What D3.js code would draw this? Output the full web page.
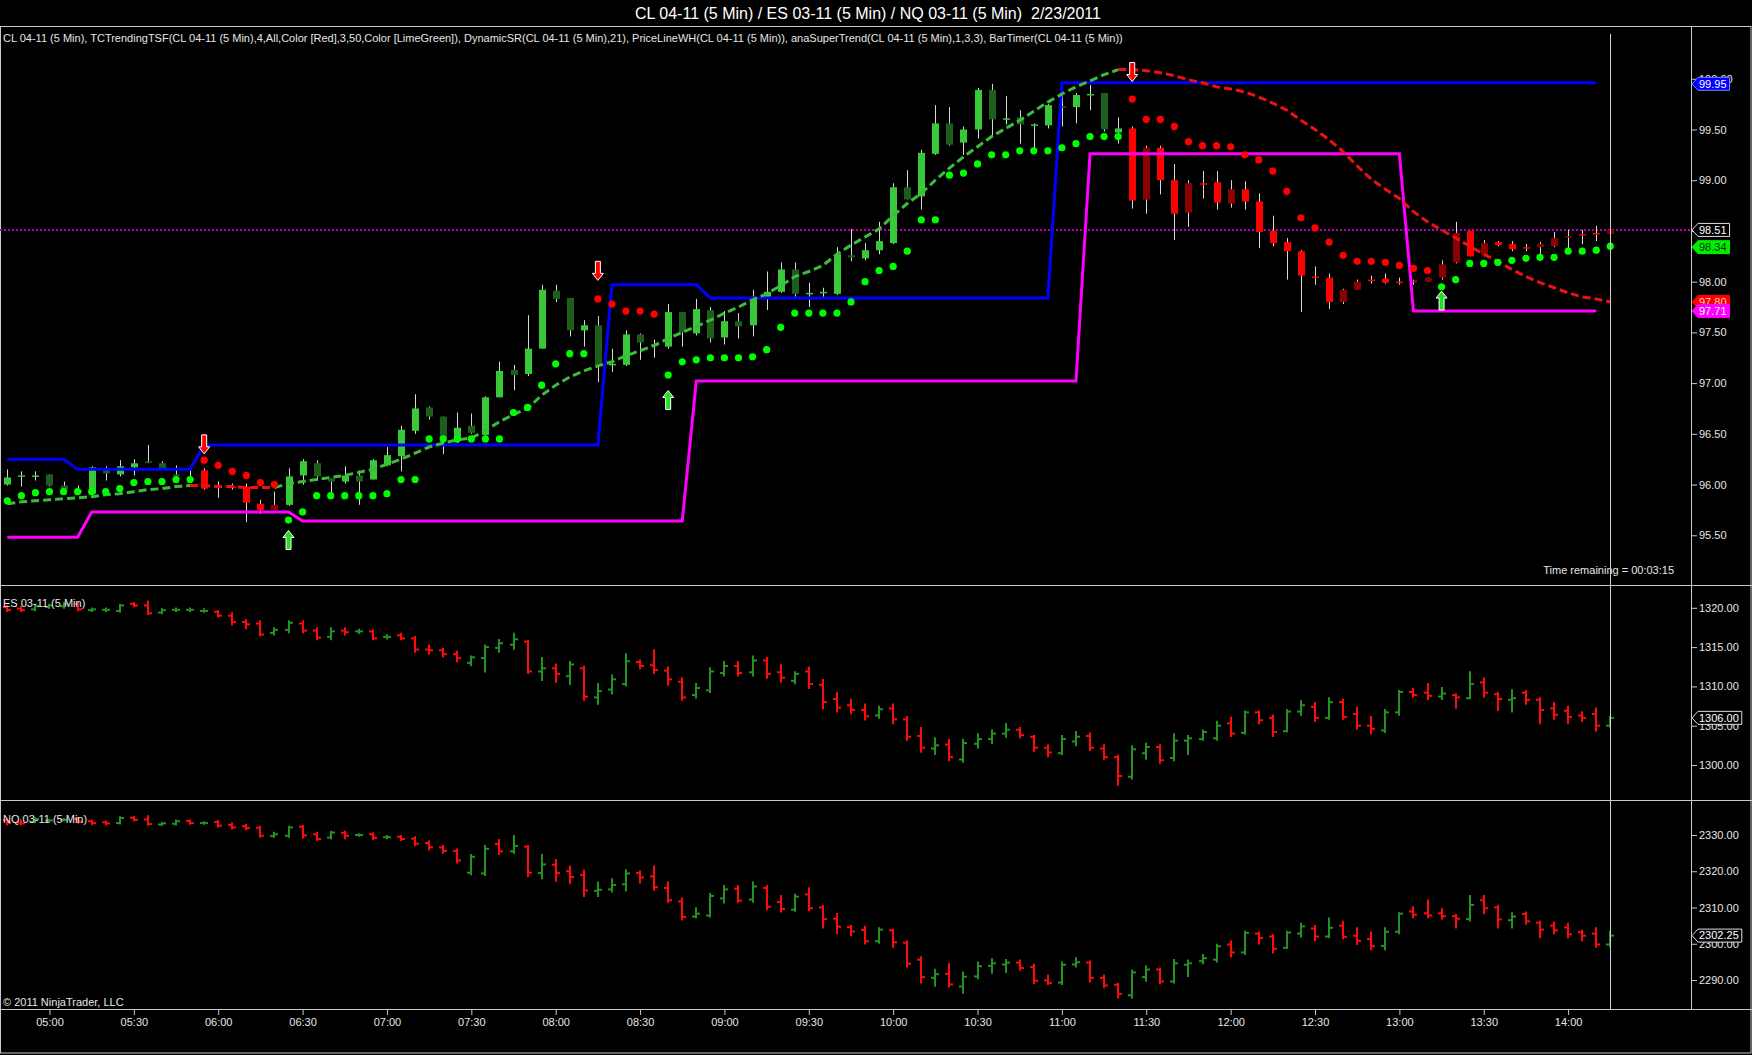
<!DOCTYPE html>
<html>
<head>
<meta charset="utf-8">
<script src="https://cdn.jsdelivr.net/npm/d3@7"></script>
<style>
  html, body { margin: 0; background: #000; }
  svg { display: block; font-family: "Liberation Sans", Arial, sans-serif; }
</style>
</head>
<body>
<svg id="chart" width="1752" height="1055"></svg>
<script>
// --- data (5 min bars, 04:45 .. 14:15) ---

// CL 04-11 candles: [open, high, low, close]
const clOHLC = [
  [96.00,96.15,95.99,96.07],[96.09,96.13,95.98,96.09],[96.09,96.13,96.04,96.09],[96.10,96.10,95.98,95.99],
  [95.99,96.03,95.93,95.95],[95.94,95.99,95.90,95.94],[95.91,96.18,95.90,96.17],[96.16,96.18,96.04,96.11],
  [96.10,96.24,96.08,96.18],[96.17,96.25,96.09,96.21],[96.23,96.39,96.21,96.22],[96.21,96.23,96.15,96.16],
  [96.10,96.19,96.04,96.09],[96.06,96.14,96.04,96.05],[96.14,96.16,95.95,95.96],[95.99,96.03,95.87,95.97],
  [95.98,96.01,95.95,95.98],[95.98,96.01,95.63,95.82],[95.81,95.85,95.71,95.75],[95.75,95.93,95.75,95.80],
  [95.80,96.16,95.79,96.08],[96.09,96.25,96.00,96.23],[96.21,96.24,96.04,96.08],[96.06,96.06,95.90,96.03],
  [96.03,96.18,96.01,96.09],[96.09,96.14,95.80,96.03],[96.05,96.25,96.05,96.24],[96.19,96.37,96.18,96.29],
  [96.28,96.58,96.13,96.54],[96.53,96.89,96.50,96.75],[96.76,96.77,96.64,96.67],[96.67,96.67,96.30,96.45],
  [96.46,96.71,96.41,96.56],[96.58,96.70,96.50,96.51],[96.49,96.87,96.48,96.86],[96.86,97.21,96.86,97.12],
  [97.13,97.18,96.93,97.08],[97.09,97.67,97.07,97.34],[97.34,97.97,97.34,97.92],[97.91,97.97,97.80,97.83],
  [97.84,97.84,97.46,97.52],[97.52,97.62,97.36,97.57],[97.57,97.66,97.01,97.18],[97.19,97.34,97.11,97.19],
  [97.18,97.52,97.17,97.48],[97.48,97.49,97.23,97.40],[97.38,97.43,97.25,97.38],[97.36,97.78,97.34,97.70],
  [97.70,97.70,97.36,97.50],[97.49,97.83,97.47,97.73],[97.72,97.75,97.40,97.44],[97.45,97.71,97.38,97.61],
  [97.61,97.69,97.44,97.56],[97.57,97.92,97.46,97.85],[97.85,98.10,97.72,97.90],[97.90,98.19,97.89,98.12],
  [98.12,98.19,97.85,97.88],[97.89,97.99,97.75,97.89],[97.90,97.94,97.84,97.90],[97.88,98.34,97.87,98.27],
  [98.26,98.52,98.20,98.24],[98.23,98.38,98.21,98.31],[98.31,98.59,98.27,98.40],[98.38,98.97,98.37,98.93],
  [98.93,99.10,98.81,98.81],[98.84,99.30,98.71,99.27],[99.26,99.74,99.25,99.56],[99.56,99.72,99.34,99.35],
  [99.37,99.53,99.25,99.50],[99.50,99.91,99.41,99.89],[99.89,99.95,99.44,99.60],[99.61,99.83,99.55,99.61],
  [99.62,99.69,99.36,99.55],[99.55,99.56,99.27,99.55],[99.54,99.75,99.51,99.74],[99.73,99.84,99.53,99.72],
  [99.72,99.86,99.56,99.84],[99.85,99.94,99.69,99.85],[99.86,99.86,99.48,99.50],[99.47,99.62,99.36,99.51],
  [99.51,99.53,98.72,98.80],[98.81,99.34,98.67,99.32],[99.32,99.34,98.86,99.00],[99.00,99.16,98.41,98.67],
  [98.68,99.00,98.54,98.97],[98.97,99.09,98.82,98.96],[98.98,99.09,98.71,98.78],[98.77,99.00,98.73,98.91],
  [98.91,98.99,98.71,98.79],[98.79,98.87,98.33,98.49],[98.50,98.65,98.35,98.38],[98.39,98.43,98.02,98.30],
  [98.30,98.31,97.70,98.06],[98.05,98.15,97.97,98.04],[98.04,98.08,97.73,97.80],[97.80,97.93,97.78,97.92],
  [97.92,98.02,97.92,98.00],[98.02,98.06,97.98,98.01],[98.03,98.08,97.98,97.99],[98.00,98.04,97.97,97.99],
  [98.01,98.02,97.97,98.00],[98.00,98.04,98.00,98.04],[98.04,98.21,98.02,98.17],[98.19,98.59,98.18,98.48],
  [98.50,98.50,98.25,98.25],[98.26,98.41,98.25,98.38],[98.39,98.40,98.35,98.36],[98.37,98.40,98.30,98.32],
  [98.34,98.37,98.30,98.34],[98.34,98.39,98.26,98.37],[98.35,98.49,98.34,98.43],[98.44,98.51,98.33,98.45],
  [98.47,98.51,98.37,98.47],[98.48,98.55,98.40,98.48],[98.47,98.52,98.46,98.51]
];

// TCTrendingTSF line value per bar, and the bar ranges where it is red
const tsfValues = [
  95.81,95.83,95.84,95.85,95.86,95.87,95.88,95.90,95.91,95.93,95.95,95.96,95.98,95.99,95.99,95.98,
  95.98,95.97,95.97,95.97,96.01,96.03,96.05,96.07,96.09,96.12,96.15,96.20,96.25,96.31,96.37,96.41,
  96.44,96.46,96.53,96.62,96.69,96.75,96.88,96.98,97.06,97.12,97.17,97.21,97.27,97.32,97.37,97.44,
  97.50,97.56,97.62,97.69,97.75,97.82,97.88,97.96,98.05,98.10,98.16,98.27,98.36,98.44,98.52,98.65,
  98.77,98.87,99.00,99.12,99.23,99.33,99.43,99.51,99.59,99.68,99.77,99.85,99.92,99.98,100.04,100.09,
  100.09,100.08,100.06,100.03,99.99,99.96,99.92,99.90,99.87,99.82,99.76,99.69,99.59,99.50,99.40,99.28,
  99.14,99.01,98.91,98.82,98.69,98.59,98.51,98.43,98.35,98.27,98.20,98.12,98.05,97.99,97.94,97.89,
  97.85,97.83,97.80
];
const tsfDownRanges = [[13, 19], [79, 114]];

// anaSuperTrend dots and the bar ranges where they are red
const superTrend = [
  95.84,95.89,95.92,95.93,95.93,95.93,95.93,95.93,95.96,96.02,96.03,96.03,96.05,96.05,96.24,96.19,
  96.13,96.09,96.02,96.00,95.65,95.73,95.89,95.89,95.89,95.89,95.89,95.91,96.05,96.05,96.45,96.45,
  96.45,96.45,96.45,96.45,96.71,96.76,96.98,97.19,97.29,97.29,97.83,97.78,97.71,97.71,97.68,97.08,
  97.21,97.23,97.25,97.25,97.25,97.26,97.33,97.55,97.69,97.69,97.69,97.69,97.80,98.00,98.11,98.15,
  98.30,98.61,98.61,99.05,99.07,99.16,99.25,99.25,99.29,99.29,99.29,99.32,99.36,99.43,99.43,99.43,
  99.80,99.60,99.60,99.53,99.38,99.34,99.34,99.33,99.25,99.20,99.09,98.89,98.63,98.53,98.39,98.26,
  98.20,98.20,98.19,98.16,98.13,98.11,97.95,98.02,98.18,98.18,98.19,98.21,98.23,98.24,98.24,98.30,
  98.30,98.31,98.35
];
const superTrendDownRanges = [[14, 19], [42, 46], [80, 101]];

// DynamicSR levels: [first bar, last bar, price]
const resistanceSteps = [[0, 4, 96.25], [5, 13, 96.15], [14, 42, 96.39], [43, 49, 97.97], [50, 74, 97.84], [75, 113, 99.96]];
const supportSteps = [[0, 5, 95.48], [6, 20, 95.73], [21, 48, 95.64], [49, 76, 97.02], [77, 99, 99.26], [100, 113, 97.71]];

// trend change arrows: bar index and price of the arrow's tail
const arrowsDown = [[14, 96.49], [42, 98.20], [80, 100.16]];
const arrowsUp = [[20, 95.36], [47, 96.74], [102, 97.72]];

const lastPrice = 98.51;

// ES 03-11 bars: [open, high, low, close]
const esOHLC = [
  [1320.1,1320.2,1319.6,1319.7],[1319.9,1320.1,1319.6,1319.7],[1319.8,1320.4,1319.7,1320.2],[1320.1,1320.4,1320.0,1320.3],
  [1320.2,1320.6,1320.0,1320.5],[1320.5,1320.6,1319.7,1319.8],[1319.7,1319.9,1319.6,1319.8],[1319.75,1319.9,1319.6,1319.75],
  [1319.6,1320.4,1319.5,1320.3],[1320.5,1320.6,1320.2,1320.3],[1320.3,1320.8,1319.2,1319.3],[1319.4,1319.8,1319.3,1319.7],
  [1319.75,1319.9,1319.6,1319.75],[1319.75,1319.9,1319.6,1319.75],[1319.6,1319.8,1319.5,1319.6],[1319.5,1319.6,1318.9,1319.0],
  [1319.0,1319.3,1317.9,1318.2],[1318.2,1318.4,1317.4,1317.9],[1318.0,1318.3,1316.5,1316.6],[1316.8,1317.4,1316.6,1317.2],
  [1317.2,1318.3,1316.9,1318.1],[1318.0,1318.3,1316.9,1317.1],[1317.1,1317.4,1316.0,1316.2],[1316.3,1317.4,1316.0,1317.0],
  [1317.1,1317.4,1316.6,1316.9],[1317.0,1317.2,1316.8,1317.0],[1317.0,1317.1,1316.0,1316.1],[1316.3,1316.5,1316.1,1316.3],
  [1316.5,1316.7,1316.0,1316.1],[1316.1,1316.3,1314.4,1314.7],[1314.7,1315.2,1314.2,1314.6],[1314.6,1314.8,1313.8,1314.1],
  [1314.1,1314.4,1313.2,1313.6],[1313.0,1313.8,1312.7,1313.7],[1313.6,1315.2,1311.9,1315.0],[1314.9,1315.9,1314.4,1315.5],
  [1315.3,1316.7,1314.8,1316.0],[1315.7,1315.8,1311.7,1311.9],[1311.9,1313.6,1310.8,1312.3],[1312.3,1312.8,1310.6,1311.6],
  [1311.3,1313.1,1310.3,1312.8],[1312.3,1312.5,1308.3,1308.7],[1308.6,1310.3,1307.8,1309.4],[1309.6,1311.4,1309.1,1310.9],
  [1310.3,1314.1,1310.1,1313.2],[1313.1,1313.3,1312.3,1312.6],[1312.7,1314.6,1311.7,1312.1],[1312.0,1312.4,1310.2,1310.9],
  [1310.6,1311.0,1308.3,1308.6],[1308.9,1310.3,1308.6,1309.8],[1309.5,1312.3,1309.3,1311.9],[1311.7,1313.1,1311.4,1312.6],
  [1312.6,1313.1,1311.4,1311.7],[1311.8,1313.8,1311.4,1313.3],[1313.3,1313.6,1311.1,1311.6],[1311.8,1312.7,1310.6,1311.1],
  [1310.7,1311.8,1310.4,1311.6],[1311.9,1312.4,1309.8,1310.3],[1310.2,1310.8,1307.2,1308.0],[1308.4,1309.2,1306.8,1307.3],
  [1307.6,1308.3,1306.6,1307.0],[1307.0,1307.7,1305.8,1306.2],[1306.3,1307.4,1306.0,1307.1],[1307.2,1307.7,1305.3,1305.8],
  [1305.8,1306.1,1303.2,1303.6],[1303.7,1304.7,1301.7,1302.2],[1302.1,1303.4,1301.4,1302.5],[1302.6,1303.2,1300.6,1301.0],
  [1300.7,1303.2,1300.4,1302.8],[1302.7,1303.9,1302.2,1303.3],[1303.3,1304.4,1302.8,1304.0],[1304.0,1305.2,1303.6,1304.5],
  [1304.5,1304.7,1303.5,1303.8],[1303.6,1303.7,1301.8,1302.2],[1302.2,1302.5,1301.1,1301.6],[1301.5,1303.7,1301.4,1303.3],
  [1303.0,1304.2,1302.5,1303.6],[1303.7,1304.0,1301.9,1302.2],[1302.1,1302.5,1300.8,1301.0],[1301.0,1301.2,1297.5,1298.6],
  [1298.5,1302.4,1298.3,1302.0],[1301.5,1302.7,1300.8,1302.3],[1302.3,1302.5,1300.3,1300.6],[1300.9,1303.9,1300.6,1303.1],
  [1303.1,1303.7,1301.4,1303.4],[1303.3,1304.4,1303.2,1304.2],[1303.4,1305.5,1303.2,1305.0],[1305.3,1306.0,1303.7,1304.0],
  [1304.1,1306.8,1304.0,1306.7],[1306.7,1306.8,1305.3,1305.7],[1306.0,1306.3,1303.7,1304.2],[1304.3,1307.0,1304.3,1306.8],
  [1306.8,1308.1,1306.4,1307.6],[1307.4,1307.9,1305.6,1306.0],[1306.0,1308.5,1305.9,1308.0],[1308.0,1308.3,1305.9,1306.1],
  [1306.5,1307.3,1304.6,1305.0],[1305.0,1306.1,1304.0,1304.6],[1304.4,1307.0,1304.2,1306.7],[1306.7,1309.4,1306.4,1309.3],
  [1309.3,1309.7,1308.7,1308.9],[1309.2,1310.3,1308.4,1308.8],[1308.7,1309.8,1308.4,1309.1],[1308.9,1309.0,1307.3,1308.6],
  [1308.5,1311.8,1308.5,1310.3],[1310.5,1311.0,1308.7,1309.2],[1309.0,1309.2,1307.0,1308.4],[1308.3,1309.5,1306.8,1308.5],
  [1309.2,1309.4,1307.8,1308.3],[1308.3,1308.5,1305.3,1307.0],[1307.2,1307.9,1305.9,1306.4],[1306.9,1307.4,1305.3,1306.1],
  [1306.3,1306.7,1305.6,1306.0],[1306.5,1307.2,1304.4,1305.0],[1305.0,1306.1,1304.9,1306.0]
];

// NQ 03-11 bars: [open, high, low, close]
const nqOHLC = [
  [2334.1,2334.3,2333.0,2333.3],[2333.4,2334.1,2333.0,2333.2],[2333.6,2334.6,2333.5,2334.4],[2334.0,2334.2,2333.8,2334.0],
  [2334.2,2334.4,2334.0,2334.2],[2334.4,2334.6,2333.4,2333.6],[2333.8,2334.0,2333.0,2333.3],[2333.5,2333.7,2333.0,2333.2],
  [2333.3,2334.9,2333.2,2334.7],[2334.8,2334.9,2334.0,2334.2],[2334.3,2335.2,2332.8,2333.0],[2332.9,2333.3,2332.8,2333.2],
  [2333.1,2334.0,2332.9,2333.8],[2333.9,2334.0,2333.1,2333.3],[2333.3,2333.5,2333.1,2333.3],[2333.6,2333.9,2332.3,2332.6],
  [2332.8,2333.2,2331.8,2332.1],[2332.4,2332.8,2331.6,2331.9],[2332.0,2332.3,2329.5,2329.8],[2329.7,2330.6,2329.5,2330.2],
  [2329.8,2332.3,2329.5,2332.1],[2332.3,2332.5,2329.3,2329.9],[2330.2,2330.6,2328.6,2328.9],[2329.3,2330.9,2329.1,2330.7],
  [2330.6,2330.9,2329.1,2329.8],[2330.0,2330.2,2329.8,2330.0],[2330.2,2330.5,2328.9,2329.2],[2329.4,2329.7,2329.1,2329.4],
  [2329.5,2329.7,2328.6,2328.9],[2329.0,2329.4,2327.2,2327.6],[2327.8,2328.2,2326.0,2326.6],[2326.6,2327.0,2325.1,2325.6],
  [2325.6,2326.0,2322.4,2323.0],[2319.6,2324.5,2319.2,2324.0],[2319.4,2327.0,2319.0,2326.2],[2327.5,2328.6,2324.8,2325.5],
  [2325.5,2329.7,2325.1,2327.0],[2326.8,2327.0,2318.7,2319.6],[2319.5,2324.5,2318.1,2321.9],[2321.8,2323.1,2317.4,2319.5],
  [2320.0,2321.3,2316.7,2318.4],[2319.0,2320.2,2313.2,2314.7],[2314.6,2316.9,2313.2,2314.9],[2315.0,2317.8,2314.4,2316.2],
  [2316.4,2320.3,2314.7,2319.4],[2319.5,2319.9,2316.9,2318.3],[2318.6,2321.3,2314.9,2315.6],[2315.4,2316.9,2311.6,2312.0],
  [2311.7,2312.5,2306.7,2307.4],[2307.5,2309.8,2307.3,2308.3],[2307.8,2313.7,2307.5,2313.2],[2312.5,2315.9,2311.4,2315.0],
  [2315.2,2315.9,2311.6,2311.9],[2312.2,2316.9,2311.6,2315.8],[2315.4,2315.9,2309.5,2310.2],[2311.5,2313.2,2308.9,2309.6],
  [2309.4,2313.5,2309.1,2313.0],[2313.6,2315.3,2309.3,2309.8],[2310.0,2310.4,2304.5,2306.8],[2306.9,2308.2,2302.9,2304.7],
  [2304.6,2304.9,2302.4,2303.4],[2303.8,2304.7,2300.1,2300.7],[2300.7,2304.3,2300.3,2303.9],[2303.7,2303.8,2299.2,2300.4],
  [2300.3,2300.6,2293.7,2294.5],[2295.6,2296.3,2289.3,2290.8],[2290.6,2292.8,2288.4,2291.6],[2291.7,2294.4,2288.2,2288.8],
  [2288.2,2292.1,2286.5,2290.9],[2291.0,2294.8,2290.5,2293.8],[2293.9,2295.7,2292.0,2294.6],[2294.3,2295.5,2292.3,2294.8],
  [2294.8,2295.4,2292.8,2293.3],[2293.6,2294.2,2289.1,2289.8],[2289.9,2291.2,2288.9,2289.2],[2289.3,2294.8,2288.9,2294.2],
  [2294.3,2296.0,2293.7,2294.9],[2294.8,2295.1,2289.6,2290.6],[2290.6,2291.2,2288.0,2288.5],[2288.7,2288.9,2285.2,2286.2],
  [2285.8,2292.6,2285.2,2292.1],[2290.8,2293.7,2289.8,2292.9],[2292.9,2293.2,2289.1,2289.6],[2289.6,2295.5,2289.3,2294.6],
  [2294.2,2295.4,2291.1,2294.6],[2295.2,2296.9,2294.6,2296.0],[2295.6,2299.7,2295.1,2299.3],[2299.8,2300.6,2296.5,2297.6],
  [2297.6,2303.3,2297.2,2303.0],[2302.8,2303.1,2300.1,2301.6],[2302.0,2302.4,2297.6,2298.6],[2298.9,2303.3,2298.8,2303.1],
  [2302.8,2305.5,2302.0,2304.8],[2304.2,2304.9,2301.0,2302.0],[2302.0,2307.0,2301.8,2304.4],[2305.0,2306.1,2301.5,2301.9],
  [2302.2,2304.3,2299.9,2300.8],[2301.3,2303.1,2298.5,2299.3],[2299.4,2304.3,2298.5,2303.3],[2303.3,2308.4,2302.9,2308.3],
  [2308.9,2310.1,2307.3,2308.0],[2308.4,2311.9,2307.3,2307.8],[2308.4,2309.5,2307.0,2307.6],[2307.6,2307.9,2304.5,2306.9],
  [2306.8,2313.2,2306.4,2310.7],[2312.0,2313.2,2308.4,2309.8],[2310.0,2310.4,2304.5,2306.7],[2306.5,2308.4,2304.5,2307.5],
  [2308.2,2308.6,2305.5,2306.2],[2305.8,2306.1,2301.8,2303.9],[2305.0,2305.8,2302.9,2303.7],[2304.5,2305.5,2301.8,2302.6],
  [2303.2,2303.6,2301.0,2302.2],[2302.8,2304.3,2299.2,2299.8],[2299.8,2303.3,2299.4,2302.25]
];

const clTicks = [95.5, 96, 96.5, 97, 97.5, 98, 98.5, 99, 99.5, 100];
const esTicks = [1300, 1305, 1310, 1315, 1320];
const nqTicks = [2290, 2300, 2310, 2320, 2330];

const titleText = "CL 04-11 (5 Min) / ES 03-11 (5 Min) / NQ 03-11 (5 Min)\u00a0\u00a02/23/2011";
const clLabel = "CL 04-11 (5 Min), TCTrendingTSF(CL 04-11 (5 Min),4,All,Color [Red],3,50,Color [LimeGreen]), DynamicSR(CL 04-11 (5 Min),21), PriceLineWH(CL 04-11 (5 Min)), anaSuperTrend(CL 04-11 (5 Min),1,3,3), BarTimer(CL 04-11 (5 Min))";
const esLabel = "ES 03-11 (5 Min)";
const nqLabel = "NQ 03-11 (5 Min)";
const timerText = "Time remaining = 00:03:15";
const copyright = "\u00a9 2011 NinjaTrader, LLC";

// --- layout ---

const width = 1752;
const height = 1055;
const axisX = 1691;
const frameColor = "#c8c8c8";
const textColor = "#e6e6e6";

const panels = {
  cl: { top: 26, bottom: 585 },
  es: { top: 585, bottom: 800 },
  nq: { top: 800, bottom: 1009 },
};

const startTime = new Date(2011, 1, 23, 4, 45);
const times = clOHLC.map((d, i) => d3.timeMinute.offset(startTime, 5 * i));

const x = d3.scaleTime().domain([times[0], times[times.length - 1]]).range([7.3, 1610.3]);
const yCL = d3.scaleLinear().domain([95.01, 100.52]).range([panels.cl.bottom, panels.cl.top]);
const yES = d3.scaleLinear().domain([1295.55, 1322.9]).range([panels.es.bottom, panels.es.top]);
const yNQ = d3.scaleLinear().domain([2282, 2339.66]).range([panels.nq.bottom, panels.nq.top]);

const svg = d3.select("#chart");
svg.append("rect").attr("width", width).attr("height", height).attr("fill", "#000");

const defs = svg.append("defs");
for (const [key, p] of Object.entries(panels)) {
  defs.append("clipPath").attr("id", `clip-${key}`)
    .append("rect").attr("x", 0).attr("y", p.top).attr("width", axisX).attr("height", p.bottom - p.top);
}

const inRanges = (i, ranges) => ranges.some(([a, b]) => i >= a && i <= b);

// --- title and frame ---

svg.append("text")
  .attr("x", 868).attr("y", 19)
  .attr("text-anchor", "middle")
  .attr("fill", "#fff")
  .attr("font-size", 16)
  .text(titleText);

const frame = svg.append("g").attr("stroke", frameColor).attr("stroke-width", 1).attr("fill", "none");
frame.append("rect").attr("x", 0.5).attr("y", 26.5).attr("width", width - 1.5).attr("height", 1053 - 26.5);
[panels.cl.bottom, panels.es.bottom, panels.nq.bottom].forEach((yy) => {
  frame.append("line").attr("x1", 0).attr("x2", width).attr("y1", yy + 0.5).attr("y2", yy + 0.5);
});
frame.append("line").attr("x1", axisX + 0.5).attr("x2", axisX + 0.5).attr("y1", 26).attr("y2", 1009);

// --- CL panel ---

const cl = svg.append("g").attr("clip-path", "url(#clip-cl)");

// price line (dotted)
cl.append("line")
  .attr("x1", 0).attr("x2", axisX)
  .attr("y1", yCL(lastPrice)).attr("y2", yCL(lastPrice))
  .attr("stroke", "#b400b4").attr("stroke-width", 2).attr("stroke-dasharray", "2,2");

// candles: bright/dark green in the up trend, red/dark red in the down trend
const candleColor = (d, i) => {
  const down = inRanges(i, tsfDownRanges.map(([a, b]) => [a + 1, b]));
  if (down) return d[3] > d[0] ? "#8b0000" : "#ff0000";
  return d[3] < d[0] ? "#1d5e1d" : "#38c838";
};

const candles = cl.append("g").selectAll("g").data(clOHLC).join("g");
candles.append("line")
  .attr("x1", (d, i) => Math.round(x(times[i])) + 0.5)
  .attr("x2", (d, i) => Math.round(x(times[i])) + 0.5)
  .attr("y1", (d) => yCL(d[1]))
  .attr("y2", (d) => yCL(d[2]))
  .attr("stroke", "#d8d8d8").attr("stroke-width", 1);
candles.append("rect")
  .attr("x", (d, i) => Math.round(x(times[i])) - 3)
  .attr("y", (d) => yCL(Math.max(d[0], d[3])))
  .attr("width", 7)
  .attr("height", (d) => Math.max(1.5, Math.abs(yCL(d[0]) - yCL(d[3]))))
  .attr("fill", candleColor);

// DynamicSR lines
const stepLine = (steps) => {
  const pts = [];
  steps.forEach(([a, b, v]) => { for (let i = a; i <= b; i++) pts.push([i, v]); });
  return pts;
};
const srLine = d3.line().x((d) => x(times[d[0]])).y((d) => yCL(d[1]));
cl.append("path").attr("d", srLine(stepLine(resistanceSteps)))
  .attr("fill", "none").attr("stroke", "#0000ff").attr("stroke-width", 3);
cl.append("path").attr("d", srLine(stepLine(supportSteps)))
  .attr("fill", "none").attr("stroke", "#ff00ff").attr("stroke-width", 3);

// TSF dashed line, green and red pieces
const tsfLine = d3.line().x((d) => x(times[d.i])).y((d) => yCL(d.v));
const tsfPts = tsfValues.map((v, i) => ({ i, v }));
const pieces = [];
let cursor = 0;
tsfDownRanges.forEach(([a, b]) => {
  if (a > cursor) pieces.push({ from: cursor, to: a, color: "#3cbc3c" });
  pieces.push({ from: a, to: b, color: "#ee1111" });
  cursor = b;
});
if (cursor < tsfPts.length - 1) pieces.push({ from: cursor, to: tsfPts.length - 1, color: "#3cbc3c" });
pieces.forEach((s) => {
  cl.append("path")
    .attr("d", tsfLine(tsfPts.slice(s.from, s.to + 1)))
    .attr("fill", "none").attr("stroke", s.color)
    .attr("stroke-width", 3).attr("stroke-dasharray", "8,4");
});

// supertrend dots
cl.append("g").selectAll("circle").data(superTrend).join("circle")
  .attr("cx", (d, i) => x(times[i]))
  .attr("cy", (d) => yCL(d))
  .attr("r", 3.6)
  .attr("fill", (d, i) => (inRanges(i, superTrendDownRanges) ? "#ff0000" : "#00ff00"));

// arrows
cl.append("g").selectAll("path").data(arrowsDown).join("path")
  .attr("d", (d) => {
    const cx = x(times[d[0]]), y0 = yCL(d[1]);
    return `M${cx - 2.5},${y0} h5 v12 h3 l-5.5,7 l-5.5,-7 h3 z`;
  })
  .attr("fill", "#ff0000").attr("stroke", "#fff").attr("stroke-width", 1);
cl.append("g").selectAll("path").data(arrowsUp).join("path")
  .attr("d", (d) => {
    const cx = x(times[d[0]]), y0 = yCL(d[1]);
    return `M${cx - 2.5},${y0} h5 v-12 h3 l-5.5,-7 l-5.5,7 h3 z`;
  })
  .attr("fill", "#22dd22").attr("stroke", "#fff").attr("stroke-width", 1);

// --- ES / NQ OHLC bars ---

function drawOhlc(data, y, key) {
  const g = svg.append("g").attr("clip-path", `url(#clip-${key})`);
  const bars = g.selectAll("g").data(data).join("g")
    .attr("stroke", (d) => (d[3] >= d[0] ? "#249124" : "#ff0a0a"))
    .attr("stroke-width", 2);
  bars.append("line")
    .attr("x1", (d, i) => Math.round(x(times[i])))
    .attr("x2", (d, i) => Math.round(x(times[i])))
    .attr("y1", (d) => y(d[1]) - 1)
    .attr("y2", (d) => y(d[2]) + 1);
  bars.append("line")
    .attr("x1", (d, i) => Math.round(x(times[i])) - 4)
    .attr("x2", (d, i) => Math.round(x(times[i])))
    .attr("y1", (d) => y(d[0]))
    .attr("y2", (d) => y(d[0]));
  bars.append("line")
    .attr("x1", (d, i) => Math.round(x(times[i])))
    .attr("x2", (d, i) => Math.round(x(times[i])) + 4)
    .attr("y1", (d) => y(d[3]))
    .attr("y2", (d) => y(d[3]));
}
drawOhlc(esOHLC, yES, "es");
drawOhlc(nqOHLC, yNQ, "nq");

// --- panel labels ---

const labels = svg.append("g").attr("fill", textColor).attr("font-size", 11);
labels.append("text").attr("x", 3).attr("y", 42).text(clLabel);
labels.append("text").attr("x", 3).attr("y", 607).text(esLabel);
labels.append("text").attr("x", 3).attr("y", 823).text(nqLabel);
labels.append("text").attr("x", 3).attr("y", 1006).text(copyright);

// current bar marker line
svg.append("line")
  .attr("x1", Math.round(x(times[times.length - 1])) + 0.5)
  .attr("x2", Math.round(x(times[times.length - 1])) + 0.5)
  .attr("y1", 34).attr("y2", 1009)
  .attr("stroke", "#d0d0d0").attr("stroke-width", 1);

labels.append("text").attr("x", 1674).attr("y", 574).attr("text-anchor", "end").text(timerText);

// --- axes ---

function rightAxis(y, ticks) {
  const g = svg.append("g")
    .attr("transform", `translate(${axisX},0)`)
    .call(d3.axisRight(y).tickValues(ticks).tickFormat(d3.format(".2f")).tickSize(6).tickPadding(2));
  g.select(".domain").remove();
  g.selectAll(".tick line").attr("stroke", frameColor);
  g.selectAll(".tick text").attr("fill", textColor).attr("font-size", 11)
    .attr("font-family", '"Liberation Sans", Arial, sans-serif');
}
rightAxis(yCL, clTicks);
rightAxis(yES, esTicks);
rightAxis(yNQ, nqTicks);

const xAxis = svg.append("g")
  .attr("transform", `translate(0,${panels.nq.bottom})`)
  .call(d3.axisBottom(x).ticks(d3.timeMinute.every(30)).tickFormat(d3.timeFormat("%H:%M")).tickSize(6).tickPadding(3));
xAxis.select(".domain").remove();
xAxis.selectAll(".tick line").attr("stroke", frameColor);
xAxis.selectAll(".tick text").attr("fill", textColor).attr("font-size", 11)
  .attr("font-family", '"Liberation Sans", Arial, sans-serif');

// --- price tags on the right axis (drawn over the tick labels, as in NinjaTrader) ---

function tag(y, value, fill, stroke, color) {
  const g = svg.append("g");
  const t = g.append("text")
    .attr("x", axisX + 8).attr("y", y).attr("dy", "0.35em")
    .attr("font-size", 11).attr("fill", color).text(value);
  const w = t.node().getComputedTextLength() + 4;
  g.insert("path", "text")
    .attr("d", `M${axisX + 1},${y} L${axisX + 7},${y - 6.5} H${axisX + 7 + w} V${y + 6.5} H${axisX + 7} Z`)
    .attr("fill", fill).attr("stroke", stroke).attr("stroke-width", 1);
}
tag(yCL(99.95), "99.95", "#0000ff", "#8080ff", "#fff");
tag(yCL(lastPrice), "98.51", "#000", "#e0e0e0", "#fff");
tag(yCL(superTrend[superTrend.length - 1] - 0.01), "98.34", "#00ee00", "#00ee00", "#003300");
tag(yCL(tsfValues[tsfValues.length - 1]), "97.80", "#ff0000", "#ff0000", "#ffd0d0");
tag(yCL(97.71), "97.71", "#ff00ff", "#ff00ff", "#fff");
tag(yES(esOHLC[esOHLC.length - 1][3]), "1306.00", "#000", "#e0e0e0", "#fff");
tag(yNQ(nqOHLC[nqOHLC.length - 1][3]), "2302.25", "#000", "#e0e0e0", "#fff");
</script>
</body>
</html>
